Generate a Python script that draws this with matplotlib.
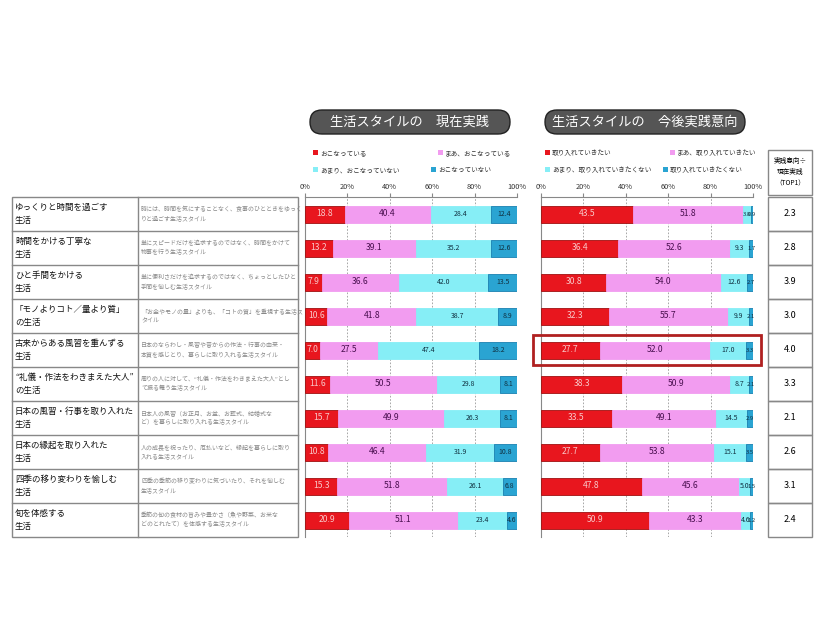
import matplotlib
matplotlib.use("Agg")
import matplotlib.pyplot as plt
from matplotlib.patches import FancyBboxPatch, Rectangle
import numpy as np

plt.rcParams['font.family'] = 'Noto Sans CJK JP'

styles = ["ゆっくりと時間を過ごす\n生活", "時間をかける丁寧な\n生活", "ひと手間をかける\n生活",
          "「モノよりコト／量より質」\nの生活", "古来からある風習を重んずる\n生活", "“礼儀・作法をわきまえた大人”\nの生活",
          "日本の風習・行事を取り入れた\n生活", "日本の縁起を取り入れた\n生活", "四季の移り変わりを愉しむ\n生活", "旬を体感する\n生活"]
descs = ["時には、時間を気にすることなく、食事のひとときをゆっく\nりと過ごす生活スタイル",
         "単にスピードだけを追求するのではなく、時間をかけて\n物事を行う生活スタイル",
         "単に便利さだけを追求するのではなく、ちょっとしたひと\n手間を愉しむ生活スタイル",
         "「お金やモノの量」よりも、「コトの質」を重視する生活ス\nタイル",
         "日本のならわし・風習や昔からの作法・行事の由来・\n本質を感じとり、暮らしに取り入れる生活スタイル",
         "周りの人に対して、“礼儀・作法をわきまえた大人”とし\nて振る舞う生活スタイル",
         "日本人の風習（お正月、お盆、お葬式、結婚式な\nど）を暮らしに取り入れる生活スタイル",
         "人の成長を祝ったり、厄払いなど、縁起を暮らしに取り\n入れる生活スタイル",
         "四季の季節の移り変わりに気づいたり、それを愉しむ\n生活スタイル",
         "季節の旬の食材の旨みや豊かさ（魚や野菜、お米な\nどのとれたて）を体感する生活スタイル"]
cur_doing = [18.8, 13.2, 7.9, 10.6, 7.0, 11.6, 15.7, 10.8, 15.3, 20.9]
cur_some = [40.4, 39.1, 36.6, 41.8, 27.5, 50.5, 49.9, 46.4, 51.8, 51.1]
cur_little = [28.4, 35.2, 42.0, 38.7, 47.4, 29.8, 26.3, 31.9, 26.1, 23.4]
cur_not = [12.4, 12.6, 13.5, 8.9, 18.2, 8.1, 8.1, 10.8, 6.8, 4.6]
fut_want = [43.5, 36.4, 30.8, 32.3, 27.7, 38.3, 33.5, 27.7, 47.8, 50.9]
fut_some = [51.8, 52.6, 54.0, 55.7, 52.0, 50.9, 49.1, 53.8, 45.6, 43.3]
fut_little = [3.8, 9.3, 12.6, 9.9, 17.0, 8.7, 14.5, 15.1, 5.0, 4.6]
fut_not = [0.9, 1.7, 2.7, 2.1, 3.3, 2.1, 2.9, 3.5, 1.5, 1.2]
ratio = ["2.3", "2.8", "3.9", "3.0", "4.0", "3.3", "2.1", "2.6", "3.1", "2.4"]
leg_cur = ["おこなっている", "まあ、おこなっている", "あまり、おこなっていない", "おこなっていない"]
leg_fut = ["取り入れていきたい", "まあ、取り入れていきたい", "あまり、取り入れていきたくない", "取り入れていきたくない"]
ticks = [0, 20, 40, 60, 80, 100]

colors = ["#E8161E", "#F29CF0", "#86EEF6", "#2AA4D2"]
edges = ["#A01010", "#F29CF0", "#86EEF6", "#1A80B0"]
tcolors = ["#F8C8C8", "#4A1050", "#103040", "#103040"]

W, H = 826, 620
fig = plt.figure(figsize=(W/100, H/100), dpi=100)
bg = fig.add_axes([0, 0, 1, 1])
bg.set_xlim(0, W); bg.set_ylim(H, 0); bg.axis('off')

top, rh = 197, 34
n = len(styles)
bg.add_patch(Rectangle((12, top), 286, rh*n, fill=False, ec="#888888", lw=1))
bg.plot([138, 138], [top, top+rh*n], color="#888888", lw=1)
for i in range(n):
    y = top + rh*i
    if i > 0:
        bg.plot([12, 298], [y, y], color="#888888", lw=1)
    bg.text(15, y+rh/2, styles[i], fontsize=6.1, va='center', ha='left', color="#111111", linespacing=1.55)
    bg.text(141, y+rh/2, descs[i], fontsize=4.3, va='center', ha='left', color="#888888", linespacing=1.6)

bg.add_patch(Rectangle((768, 150), 44, 45, fill=False, ec="#888888", lw=1))
bg.text(790, 172, "実践意向÷\n現在実践\n（TOP1）", fontsize=4.8, ha='center', va='center', linespacing=1.5)
for i in range(n):
    y = top + rh*i
    bg.add_patch(Rectangle((768, y), 44, rh, fill=False, ec="#888888", lw=1))
    bg.text(790, y+rh/2, ratio[i], fontsize=6.5, ha='center', va='center')

for cx, t in [(410, "生活スタイルの　現在実践"), (645, "生活スタイルの　今後実践意向")]:
    bg.add_patch(FancyBboxPatch((cx-100, 110), 200, 24, boxstyle="round,pad=0,rounding_size=12",
                                fc="#555555", ec="#222222", lw=1))
    bg.text(cx, 122, t, fontsize=9.5, color="white", ha='center', va='center')

for x0, labs in [(313, leg_cur), (545, leg_fut)]:
    pos = [(x0, 153), (x0+125, 153), (x0, 170), (x0+118, 170)]
    for (px, py), lab, c in zip(pos, labs, colors):
        bg.add_patch(Rectangle((px, py-3), 5, 5, fc=c, ec='none'))
        bg.text(px+7, py, lab, fontsize=4.8, va='center', ha='left', color="#333333")

def draw(x0, data, boxrow=None):
    ax = fig.add_axes([x0/W, 1-(top+rh*n)/H, 212/W, rh*n/H])
    ax.set_xlim(0, 100); ax.set_ylim(n-0.5, -0.5)
    y = np.arange(n)
    left = np.zeros(n)
    for k, vals in enumerate(data):
        vals = np.array(vals)
        ax.barh(y, vals, left=left, height=0.5, color=colors[k], ec=edges[k], lw=0.6, zorder=3)
        for i, v in enumerate(vals):
            fs = 6.2 if k < 2 else (5.0 if v >= 4 else 4.2)
            ax.text(left[i]+v/2, i, f"{v:.1f}", ha='center', va='center', fontsize=fs,
                    color=tcolors[k], zorder=4)
        left += vals
    ax.set_xticks(ticks)
    ax.set_xticklabels([f"{t}%" for t in ticks], fontsize=5.3, color="#333333")
    ax.xaxis.tick_top()
    ax.tick_params(axis='x', length=3, pad=1, color="#888888")
    ax.set_yticks([])
    for t in ticks[1:]:
        ax.axvline(t, color="#999999", ls=(0, (2, 2)), lw=0.6, zorder=1)
    for s in ['right', 'bottom']:
        ax.spines[s].set_visible(False)
    ax.spines['top'].set_color("#888888")
    ax.spines['left'].set_color("#888888")
    if boxrow is not None:
        ax.add_patch(Rectangle((-4, boxrow-0.45), 108, 0.9, fill=False, ec="#B02020", lw=2,
                               clip_on=False, zorder=5))
    return ax

draw(305, [cur_doing, cur_some, cur_little, cur_not])
draw(541, [fut_want, fut_some, fut_little, fut_not], boxrow=4)

fig.savefig("out.png", dpi=100)
